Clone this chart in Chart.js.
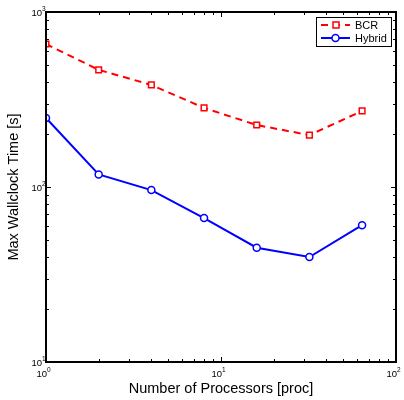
<!DOCTYPE html>
<html>
<head>
<meta charset="utf-8">
<script src="https://cdn.jsdelivr.net/npm/chart.js@4/dist/chart.umd.min.js"></script>
<style>
  body { margin: 0; background: #fff; }
  canvas { display: block; }
</style>
</head>
<body>
<canvas id="chart" width="404" height="400"></canvas>
<script>
'use strict';

const processors = [1, 2, 4, 8, 16, 32, 64];
const bcrTimes = [656, 467, 383, 283, 226, 198, 272];
const hybridTimes = [248, 118, 96, 66.5, 45, 39.8, 60.5];
const xDecades = [0, 1, 2];
const yDecades = [1, 2, 3];

const fontName = '"Liberation Sans", Arial, Helvetica, sans-serif';

function toPoints(values) {
    return processors.map((p, i) => ({ x: p, y: values[i] }));
}

// matlab style box, inward ticks, 10^n labels and legend
const matlabAxes = {
    id: 'matlabAxes',
    afterDraw(chart) {
        const ctx = chart.ctx;
        const area = chart.chartArea;
        const xs = chart.scales.x;
        const ys = chart.scales.y;
        ctx.save();
        ctx.strokeStyle = '#000';
        ctx.lineWidth = 1;

        // x ticks
        for (let d = 0; d < xDecades.length; d++) {
            for (let m = 1; m <= 9; m++) {
                const v = m * Math.pow(10, xDecades[d]);
                if (v < xs.min || v > xs.max) continue;
                const px = Math.round(xs.getPixelForValue(v)) + 0.5;
                const len = m === 1 ? 5 : 3;
                ctx.beginPath();
                ctx.moveTo(px, area.bottom);
                ctx.lineTo(px, area.bottom - len);
                ctx.moveTo(px, area.top);
                ctx.lineTo(px, area.top + len);
                ctx.stroke();
            }
        }
        // y ticks
        for (let d = 0; d < yDecades.length; d++) {
            for (let m = 1; m <= 9; m++) {
                const v = m * Math.pow(10, yDecades[d]);
                if (v < ys.min || v > ys.max) continue;
                const py = Math.round(ys.getPixelForValue(v)) + 0.5;
                const len = m === 1 ? 5 : 3;
                ctx.beginPath();
                ctx.moveTo(area.left, py);
                ctx.lineTo(area.left + len, py);
                ctx.moveTo(area.right, py);
                ctx.lineTo(area.right - len, py);
                ctx.stroke();
            }
        }

        // box
        ctx.lineWidth = 2;
        ctx.strokeRect(area.left, area.top, area.right - area.left, area.bottom - area.top);

        // tick labels
        ctx.fillStyle = '#000';
        ctx.textBaseline = 'alphabetic';
        xDecades.forEach(e => {
            const px = xs.getPixelForValue(Math.pow(10, e));
            ctx.font = '9.5px ' + fontName;
            ctx.textAlign = 'right';
            ctx.fillText('10', px + 1, area.bottom + 15);
            ctx.font = '6.5px ' + fontName;
            ctx.textAlign = 'left';
            ctx.fillText(String(e), px + 1, area.bottom + 10);
        });
        yDecades.forEach(e => {
            const py = ys.getPixelForValue(Math.pow(10, e));
            ctx.font = '9.5px ' + fontName;
            ctx.textAlign = 'right';
            ctx.fillText('10', area.left - 4, py + 4);
            ctx.font = '6.5px ' + fontName;
            ctx.textAlign = 'left';
            ctx.fillText(String(e), area.left - 4, py - 1);
        });

        // legend
        const lx = 316, ly = 17, lw = 75, lh = 29;
        ctx.fillStyle = '#fff';
        ctx.fillRect(lx, ly, lw, lh);
        ctx.lineWidth = 1;
        ctx.strokeStyle = '#000';
        ctx.strokeRect(lx + 0.5, ly + 0.5, lw, lh);
        chart.data.datasets.forEach((ds, i) => {
            const y = ly + 8 + i * 13;
            ctx.save();
            ctx.strokeStyle = ds.borderColor;
            ctx.lineWidth = ds.borderWidth;
            ctx.setLineDash(ds.borderDash || []);
            ctx.beginPath();
            ctx.moveTo(lx + 5, y);
            ctx.lineTo(lx + 34, y);
            ctx.stroke();
            ctx.restore();
            ctx.save();
            ctx.strokeStyle = ds.borderColor;
            ctx.fillStyle = '#fff';
            ctx.lineWidth = 1.5;
            ctx.beginPath();
            if (ds.pointStyle === 'rect') {
                ctx.rect(lx + 17, y - 3, 6, 6);
            } else {
                ctx.arc(lx + 19.5, y, 3.5, 0, Math.PI * 2);
            }
            ctx.fill();
            ctx.stroke();
            ctx.restore();
            ctx.fillStyle = '#000';
            ctx.font = '11px ' + fontName;
            ctx.textAlign = 'left';
            ctx.textBaseline = 'middle';
            ctx.fillText(ds.label, lx + 39, y + 1);
        });
        ctx.restore();
    }
};

const canvasEl = document.getElementById('chart');

new Chart(canvasEl, {
    type: 'line',
    data: {
        datasets: [{
            label: 'BCR',
            data: toPoints(bcrTimes),
            borderColor: '#ff0000',
            borderWidth: 2,
            borderDash: [7, 5],
            pointStyle: 'rect',
            pointRadius: 4,
            pointBorderWidth: 1.5,
            pointBackgroundColor: '#fff',
            pointBorderColor: '#ff0000',
            tension: 0
        }, {
            label: 'Hybrid',
            data: toPoints(hybridTimes),
            borderColor: '#0000ff',
            borderWidth: 2,
            pointStyle: 'circle',
            pointRadius: 3.5,
            pointBorderWidth: 1.5,
            pointBackgroundColor: '#fff',
            pointBorderColor: '#0000ff',
            tension: 0
        }]
    },
    options: {
        responsive: false,
        animation: false,
        layout: { padding: { left: 0, right: 8, top: 12, bottom: 0 } },
        plugins: {
            legend: { display: false },
            tooltip: { enabled: false }
        },
        scales: {
            x: {
                type: 'logarithmic',
                min: 1,
                max: 100,
                grid: { display: false, drawTicks: false },
                border: { display: false },
                ticks: { display: false },
                title: {
                    display: true,
                    text: 'Number of Processors [proc]',
                    color: '#000',
                    font: { family: fontName, size: 14.5 },
                    padding: { top: 0, bottom: 2 }
                },
                afterFit(scale) { scale.height = 38; }
            },
            y: {
                type: 'logarithmic',
                min: 10,
                max: 1000,
                grid: { display: false, drawTicks: false },
                border: { display: false },
                ticks: { display: false },
                title: {
                    display: true,
                    text: 'Max Wallclock Time [s]',
                    color: '#000',
                    font: { family: fontName, size: 14.5 },
                    padding: { top: 5, bottom: 0 }
                },
                afterFit(scale) { scale.width = 46; }
            }
        }
    },
    plugins: [matlabAxes]
});
</script>
</body>
</html>
